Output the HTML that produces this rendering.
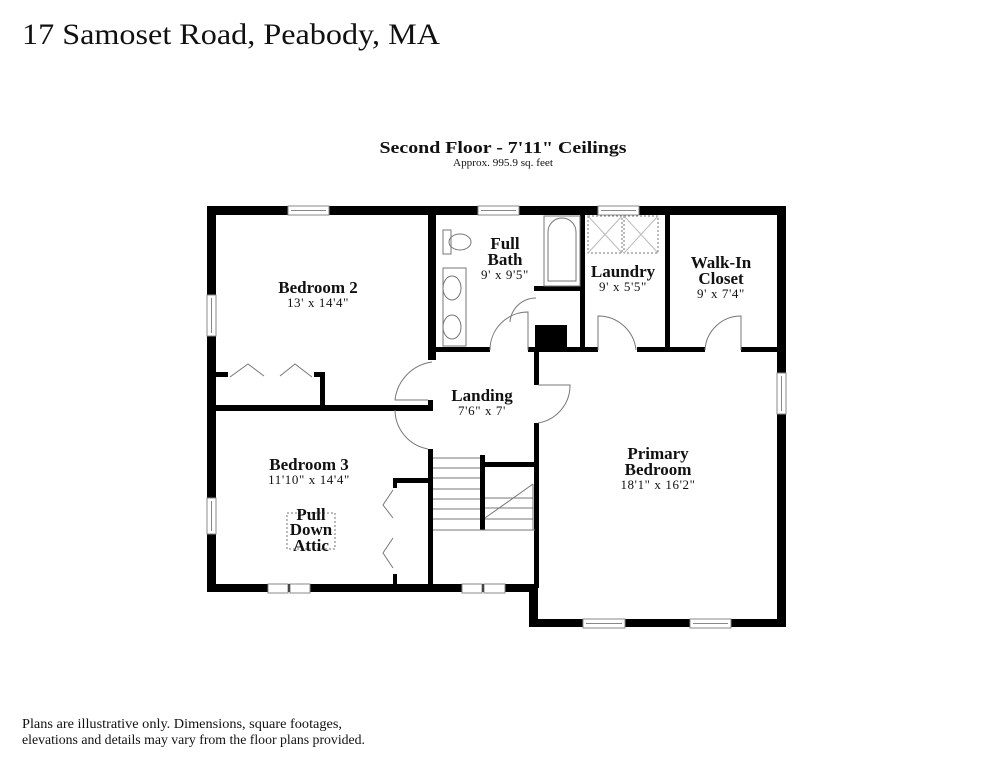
<!DOCTYPE html>
<html><head><meta charset="utf-8"><style>
html,body{margin:0;padding:0;background:#fff;}
svg{display:block;}
text{font-family:"Liberation Serif",serif;fill:#111;}
.b{font-weight:bold;font-size:17px;}
.s{font-size:13px;letter-spacing:0.6px;}
</style></head><body>
<svg width="994" height="768" viewBox="0 0 994 768" xmlns="http://www.w3.org/2000/svg">
<rect width="994" height="768" fill="#fff"/>
<text x="22" y="44" font-size="30" textLength="418" lengthAdjust="spacingAndGlyphs">17 Samoset Road, Peabody, MA</text>
<text x="503" y="153" font-size="17" font-weight="bold" text-anchor="middle" textLength="247" lengthAdjust="spacingAndGlyphs">Second Floor - 7'11" Ceilings</text>
<text x="503" y="166" font-size="10.5" text-anchor="middle" textLength="100" lengthAdjust="spacingAndGlyphs">Approx. 995.9 sq. feet</text>
<text x="22" y="728" font-size="13.5" textLength="320" lengthAdjust="spacingAndGlyphs">Plans are illustrative only. Dimensions, square footages,</text>
<text x="22" y="744" font-size="13.5" textLength="343" lengthAdjust="spacingAndGlyphs">elevations and details may vary from the floor plans provided.</text>

<g fill="#000">
<rect x="207" y="206" width="579" height="9"/>
<rect x="207" y="206" width="9" height="386"/>
<rect x="207" y="584" width="331" height="8"/>
<rect x="529" y="584" width="9" height="43"/>
<rect x="529" y="619" width="257" height="8"/>
<rect x="777" y="206" width="9" height="421"/>
<rect x="428" y="206" width="8" height="154"/>
<rect x="428" y="400" width="5" height="11"/>
<rect x="216" y="405" width="217" height="6"/>
<rect x="320" y="372" width="5" height="36"/>
<rect x="314" y="372" width="11" height="5"/>
<rect x="216" y="372" width="12" height="5"/>
<rect x="432" y="347" width="58" height="5"/>
<rect x="528" y="347" width="70" height="5"/>
<rect x="637" y="347" width="68" height="5"/>
<rect x="741" y="347" width="36" height="5"/>
<rect x="535" y="325" width="32" height="27"/>
<rect x="534" y="350" width="5" height="35"/>
<rect x="534" y="423" width="5" height="165"/>
<rect x="580" y="214" width="5" height="136"/>
<rect x="534" y="286" width="50" height="5"/>
<rect x="665" y="214" width="5" height="136"/>
<rect x="428" y="449" width="5" height="138"/>
<rect x="393" y="478" width="40" height="5"/>
<rect x="393" y="478" width="4" height="10"/>
<rect x="393" y="574" width="4" height="11"/>
<rect x="480" y="455" width="5" height="75"/>
<rect x="480" y="462" width="55" height="5"/>
</g>

<g fill="#fff" stroke="#888" stroke-width="1">
<rect x="288" y="206" width="41" height="9"/><line x1="291" y1="210.5" x2="326" y2="210.5"/>
<rect x="478" y="206" width="41" height="9"/><line x1="481" y1="210.5" x2="516" y2="210.5"/>
<rect x="598" y="206" width="41" height="9"/><line x1="601" y1="210.5" x2="636" y2="210.5"/>
<rect x="207" y="295" width="9" height="41"/><line x1="211.5" y1="298" x2="211.5" y2="333"/>
<rect x="207" y="498" width="9" height="36"/><line x1="211.5" y1="501" x2="211.5" y2="531"/>
<rect x="777" y="373" width="9" height="41"/><line x1="781.5" y1="376" x2="781.5" y2="411"/>
<rect x="268" y="584" width="20" height="9"/><rect x="290" y="584" width="20" height="9"/>
<rect x="462" y="584" width="20" height="9"/><rect x="484" y="584" width="21" height="9"/>
<rect x="583" y="619" width="42" height="9"/><line x1="586" y1="623.5" x2="622" y2="623.5"/>
<rect x="690" y="619" width="41" height="9"/><line x1="693" y1="623.5" x2="728" y2="623.5"/>
</g>

<g fill="none" stroke="#777" stroke-width="1">
<path d="M432 362 A43 43 0 0 0 395 400 L428 400"/>
<path d="M395 410 A40 40 0 0 0 428 449"/>
<path d="M538 385 L570 385 A38 38 0 0 1 538 423"/>
<path d="M490 350 A38 38 0 0 1 528 312 L528 350"/>
<path d="M510 322 A26 26 0 0 1 536 298"/>
<path d="M598 350 L598 316 A38 38 0 0 1 636 350"/>
<path d="M705 350 A36 36 0 0 1 741 316 L741 350"/>
<path d="M230 377 L248 364 L264 376 M280 376 L295 364 L312 377"/>
<path d="M393 490 L383 505 L393 518 M393 538 L383 553 L393 568"/>
<rect x="443" y="230" width="8" height="24"/>
<ellipse cx="460" cy="242" rx="11" ry="8"/>
<rect x="443" y="268" width="23" height="78"/>
<ellipse cx="452" cy="288" rx="9" ry="12"/>
<ellipse cx="452" cy="327" rx="9" ry="12"/>
<rect x="544" y="216" width="36" height="70"/>
<path d="M548 281 L548 232 A14 14 0 0 1 576 232 L576 281 Z"/>
<rect x="588" y="216" width="34" height="37" stroke-dasharray="2,2"/>
<rect x="624" y="216" width="34" height="37" stroke-dasharray="2,2"/>
<path d="M588 216 L622 253 M622 216 L588 253 M624 216 L658 253 M658 216 L624 253" stroke="#bbb"/>
<path d="M433 458 L480 458 M433 468 L480 468 M433 478 L480 478 M433 489 L480 489 M433 499 L480 499 M433 509 L480 509 M433 519 L480 519 M433 530 L535 530"/>
<path d="M485 519 L533 519 M485 508 L533 508 M485 498 L533 498 M485 518 L533 484 M533 484 L533 530"/>
<rect x="287" y="513" width="48" height="36" stroke-dasharray="2,2"/>
</g>

<text class="b" x="318" y="293" text-anchor="middle">Bedroom 2</text>
<text class="s" x="318" y="307" text-anchor="middle">13' x 14'4"</text>
<text class="b" x="505" y="249" text-anchor="middle">Full</text>
<text class="b" x="505" y="265" text-anchor="middle">Bath</text>
<text class="s" x="505" y="279" text-anchor="middle">9' x 9'5"</text>
<text class="b" x="623" y="277" text-anchor="middle">Laundry</text>
<text class="s" x="623" y="291" text-anchor="middle">9' x 5'5"</text>
<text class="b" x="721" y="268" text-anchor="middle">Walk-In</text>
<text class="b" x="721" y="284" text-anchor="middle">Closet</text>
<text class="s" x="721" y="298" text-anchor="middle">9' x 7'4"</text>
<text class="b" x="482" y="401" text-anchor="middle">Landing</text>
<text class="s" x="482" y="415" text-anchor="middle">7'6" x 7'</text>
<text class="b" x="309" y="470" text-anchor="middle">Bedroom 3</text>
<text class="s" x="309" y="484" text-anchor="middle">11'10" x 14'4"</text>
<text class="b" x="311" y="520" text-anchor="middle">Pull</text>
<text class="b" x="311" y="535" text-anchor="middle">Down</text>
<text class="b" x="311" y="551" text-anchor="middle">Attic</text>
<text class="b" x="658" y="459" text-anchor="middle">Primary</text>
<text class="b" x="658" y="475" text-anchor="middle">Bedroom</text>
<text class="s" x="658" y="489" text-anchor="middle">18'1" x 16'2"</text>
</svg>
</body></html>
